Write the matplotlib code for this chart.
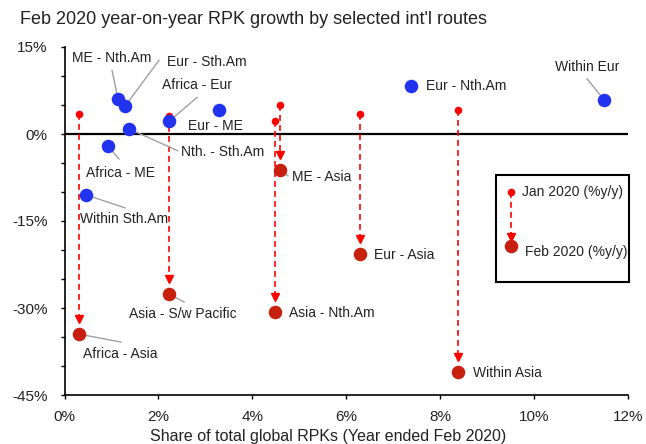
import matplotlib
matplotlib.use("Agg")
import matplotlib.pyplot as plt
from matplotlib.patches import Rectangle

plt.rcParams["font.family"] = ["Liberation Sans", "DejaVu Sans"]

# ==========================================
# DATOS
# ==========================================

# Rutas sin caida (solo Feb 2020)
rutas_azul = ["ME - Nth.Am", "Eur - Sth.Am", "Africa - Eur", "Eur - ME",
              "Nth. - Sth.Am", "Africa - ME", "Within Sth.Am",
              "Eur - Nth.Am", "Within Eur"]
share_azul = [1.14, 1.29, 2.23, 3.29, 1.37, 0.93, 0.46, 7.38, 11.49]
feb_azul = [6.0, 4.8, 2.2, 4.1, 0.9, -2.1, -10.5, 8.3, 5.9]

# Rutas con Asia (Jan -> Feb 2020)
rutas_rojo = ["Africa - Asia", "Asia - S/w Pacific", "Asia - Nth.Am",
              "ME - Asia", "Eur - Asia", "Within Asia"]
share_rojo = [0.31, 2.23, 4.48, 4.59, 6.29, 8.38]
jan_rojo = [3.4, 3.1, 2.2, 5.0, 3.4, 4.1]
feb_rojo = [-34.5, -27.6, -30.7, -6.2, -20.7, -41.0]

y_ticks = [15, 0, -15, -30, -45]
x_ticks = [0, 2, 4, 6, 8, 10, 12]

# posicion de etiquetas: (dx, dy texto, ha, linea guia) en pixeles
etiquetas = {
    "ME - Nth.Am": (-6, -41, "center", (-6, -29)),
    "Eur - Sth.Am": (42, -44, "left", (34, -46)),
    "Africa - Eur": (28, -36, "center", (28, -24)),
    "Eur - ME": (-4, 16, "center", None),
    "Nth. - Sth.Am": (52, 23, "left", (49, 22)),
    "Africa - ME": (12, 27, "center", (11, 13)),
    "Within Sth.Am": (38, 24, "center", (39, 13)),
    "Eur - Nth.Am": (15, 0, "left", None),
    "Within Eur": (-17, -33, "center", (-17, -21)),
    "Africa - Asia": (41, 20, "center", (42, 8)),
    "Asia - S/w Pacific": (14, 20, "center", (15, 8)),
    "Asia - Nth.Am": (14, 1, "left", None),
    "ME - Asia": (12, 7, "left", (8, 6)),
    "Eur - Asia": (14, 1, "left", None),
    "Within Asia": (15, 1, "left", None),
}

azul = "#2233F0"
rojo_feb = "#C8200E"
rojo_jan = "#FF0000"
gris = "#A0A0A0"
texto = "#222222"

# ==========================================
# GRAFICO
# ==========================================

AX_L, AX_R, AX_T, AX_B = 64.5, 628, 47, 395

fig = plt.figure(figsize=(6.46, 4.44), dpi=100)
ax = fig.add_axes([AX_L / 646, 1 - AX_B / 444,
                   (AX_R - AX_L) / 646, (AX_B - AX_T) / 444])

ax.set_xlim(0, 12)
ax.set_ylim(-45, 15)

ax.axhline(0, color="black", lw=1.6, zorder=1)

# flechas Jan -> Feb
for x, j, f in zip(share_rojo, jan_rojo, feb_rojo):
    ax.plot([x, x], [j, f + 2.3], color=rojo_jan, lw=1.2,
            ls=(0, (3.5, 2.5)), zorder=2)
    ax.plot(x, f + 2.6, marker="v", color=rojo_jan, ms=6, zorder=2)

ax.scatter(share_rojo, jan_rojo, s=30, color=rojo_jan, zorder=3,
           linewidths=0)
ax.scatter(share_rojo, feb_rojo, s=95, color=rojo_feb, zorder=4,
           linewidths=0)
ax.scatter(share_azul, feb_azul, s=95, color=azul, zorder=4,
           linewidths=0)

todos = list(zip(rutas_azul, share_azul, feb_azul)) + \
    list(zip(rutas_rojo, share_rojo, feb_rojo))

for nombre, x, y in todos:
    dx, dy, ha, guia = etiquetas[nombre]
    if guia is not None:
        ax.annotate("", xy=(x, y), xytext=(guia[0], -guia[1]),
                    textcoords="offset pixels",
                    arrowprops=dict(arrowstyle="-", color=gris, lw=1,
                                    shrinkA=0, shrinkB=0), zorder=3)
    ax.annotate(nombre, xy=(x, y), xytext=(dx, -dy),
                textcoords="offset pixels", ha=ha, va="center",
                fontsize=10, color=texto, zorder=5)

# ejes
ax.spines["top"].set_visible(False)
ax.spines["right"].set_visible(False)
ax.spines["left"].set_linewidth(1.2)
ax.spines["bottom"].set_linewidth(1.2)

ax.set_yticks(y_ticks)
ax.set_yticklabels([f"{v}%" for v in y_ticks])
ax.set_yticks(range(-45, 16, 5), minor=True)
ax.set_xticks(x_ticks)
ax.set_xticklabels([f"{v}%" for v in x_ticks])
ax.tick_params(axis="both", labelsize=11, length=3, width=1,
               colors="black", labelcolor=texto)
ax.tick_params(axis="y", which="both", length=3, width=1, pad=9)
ax.tick_params(axis="x", pad=8)

ax.set_xlabel("Share of total global RPKs (Year ended Feb 2020)",
              fontsize=11.5, color=texto)
ax.xaxis.set_label_coords((328 - AX_L) / (AX_R - AX_L),
                          -(436 - AX_B) / (AX_B - AX_T))
ax.xaxis.label.set_va("center")

fig.text(20 / 646, 1 - 20 / 444,
         "Feb 2020 year-on-year RPK growth by selected int'l routes",
         fontsize=13, color=texto, va="center", ha="left")

# leyenda manual
def px(xp, yp):
    return ((xp - AX_L) / (AX_R - AX_L), (AX_B - yp) / (AX_B - AX_T))

x0, y0 = px(496, 282)
x1, y1 = px(629, 175)
ax.add_patch(Rectangle((x0, y0), x1 - x0, y1 - y0, transform=ax.transAxes,
                       fill=False, ec="black", lw=1.5, clip_on=False,
                       zorder=6))
lx, ly_jan = px(511, 192)
_, ly_fin = px(511, 234)
_, ly_feb = px(511, 246)
ax.plot([lx, lx], [ly_jan, ly_fin], transform=ax.transAxes, color=rojo_jan,
        lw=1.2, ls=(0, (3.5, 2.5)), clip_on=False, zorder=6)
ax.plot(lx, px(511, 237)[1], transform=ax.transAxes, marker="v",
        color=rojo_jan, ms=6, clip_on=False, zorder=6)
ax.scatter([lx], [ly_jan], s=30, color=rojo_jan, transform=ax.transAxes,
           clip_on=False, zorder=7, linewidths=0)
ax.scatter([lx], [ly_feb], s=95, color=rojo_feb, transform=ax.transAxes,
           clip_on=False, zorder=7, linewidths=0)
tx, ty = px(522, 192)
ax.text(tx, ty, "Jan 2020 (%y/y)", transform=ax.transAxes, fontsize=10,
        color=texto, va="center", ha="left")
tx, ty = px(525, 252)
ax.text(tx, ty, "Feb 2020 (%y/y)", transform=ax.transAxes, fontsize=10,
        color=texto, va="center", ha="left")

fig.savefig("out.png", dpi=100)
